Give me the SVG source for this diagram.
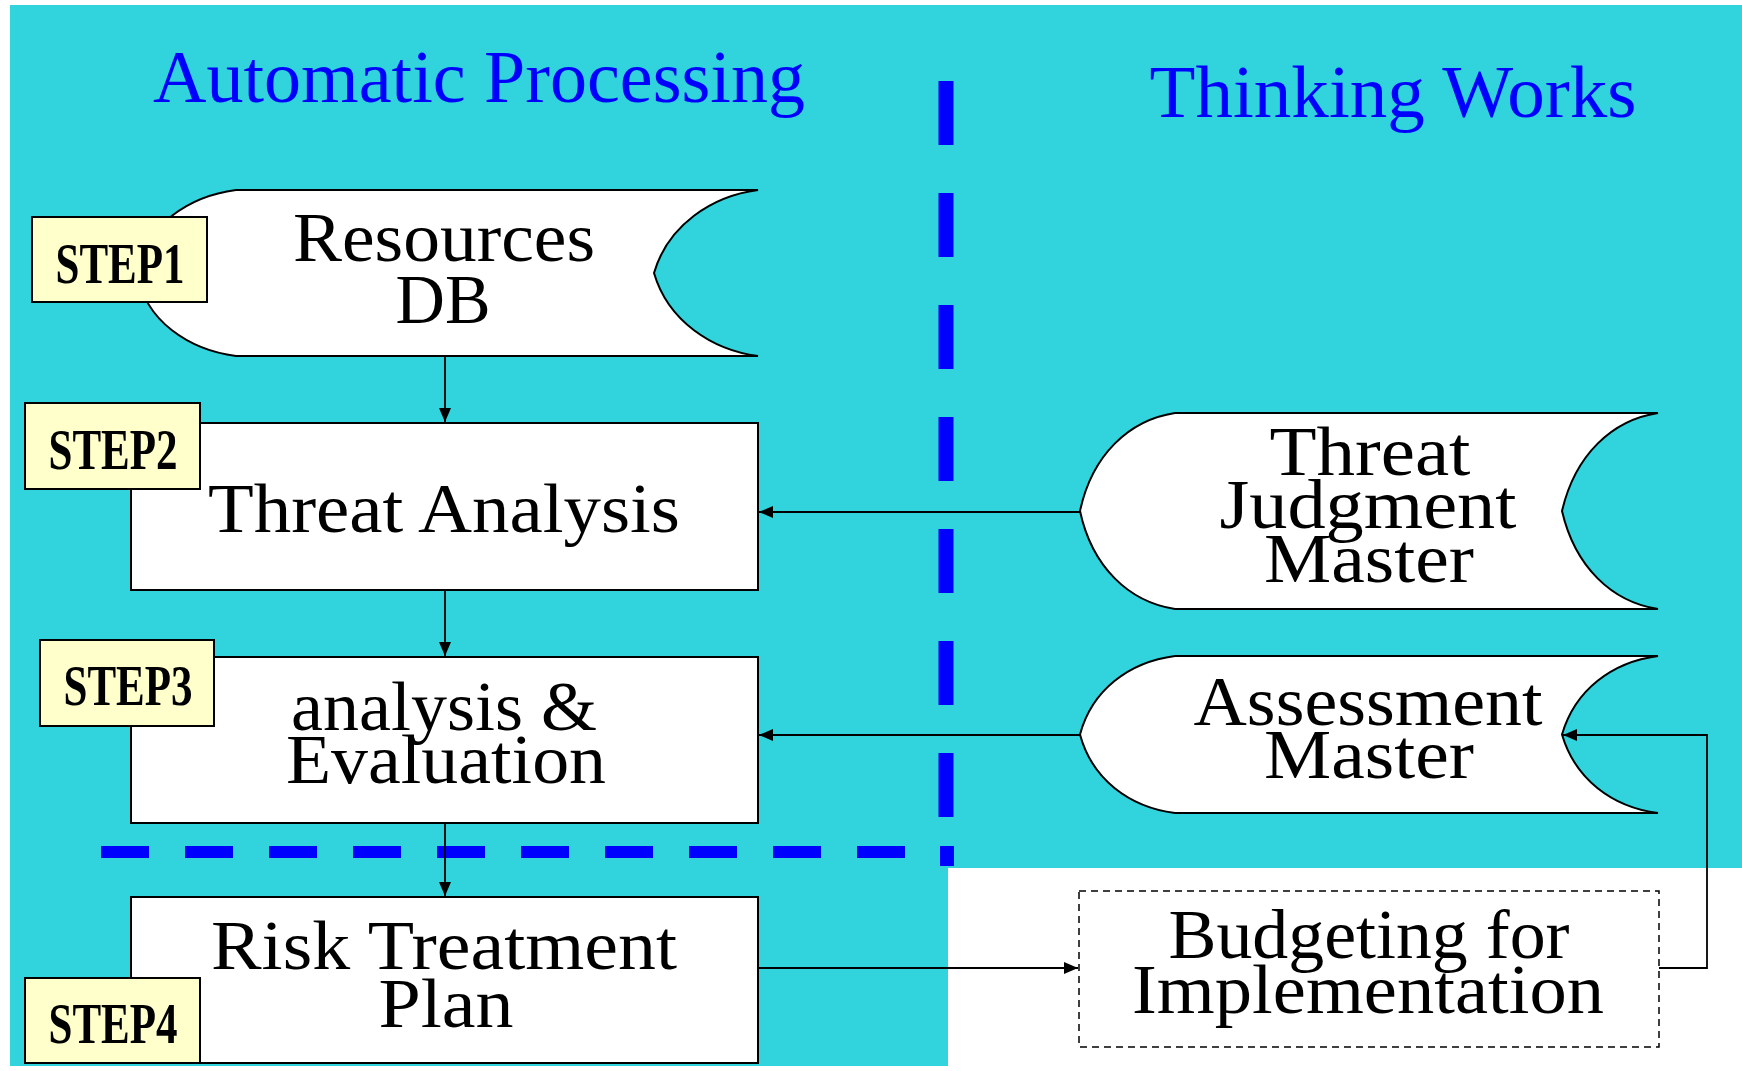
<svg xmlns="http://www.w3.org/2000/svg" width="1742" height="1071" viewBox="0 0 1742 1071">
<defs>
<style>
.bg{fill:#31D3DC}
.node{fill:#FFFFFF;stroke:#000;stroke-width:2}
.step{fill:#FFFFCC;stroke:#000;stroke-width:2}
.steptxt{font-family:"Liberation Serif",serif;font-weight:bold;font-size:58px;fill:#000;text-anchor:middle}
.txt{font-family:"Liberation Serif",serif;font-size:70px;fill:#000;text-anchor:middle}
.head{font-family:"Liberation Serif",serif;font-size:74px;fill:#0000FF;text-anchor:middle}
.conn{fill:none;stroke:#000;stroke-width:1.8}
.dash{fill:none;stroke:#0000FF}
</style>
<marker id="ah" markerUnits="userSpaceOnUse" markerWidth="14" markerHeight="12" refX="14" refY="6" orient="auto">
<path d="M0,0 L14,6 L0,12 Z" fill="#000"/>
</marker>
</defs>
<rect class="bg" x="10" y="5" width="1732" height="1061"/>
<rect x="948" y="868" width="794" height="203" fill="#FFFFFF"/>

<text class="head" x="479" y="102" textLength="652" lengthAdjust="spacingAndGlyphs">Automatic Processing</text>
<text class="head" x="1393" y="117" textLength="487" lengthAdjust="spacingAndGlyphs">Thinking Works</text>

<g id="separators">
<line class="dash" x1="946" y1="81" x2="946" y2="817" stroke-width="15" stroke-dasharray="64 48"/>
<rect x="940" y="846" width="14" height="20" fill="#0000FF"/>
<line class="dash" x1="101" y1="852" x2="905" y2="852" stroke-width="12" stroke-dasharray="48 36"/>
</g>

<g id="connectors">
<line class="conn" x1="445" y1="356" x2="445" y2="422" marker-end="url(#ah)"/>
<line class="conn" x1="445" y1="590" x2="445" y2="656" marker-end="url(#ah)"/>
<line class="conn" x1="445" y1="823" x2="445" y2="896" marker-end="url(#ah)"/>
<line class="conn" x1="1080" y1="512" x2="759" y2="512" marker-end="url(#ah)"/>
<line class="conn" x1="1080" y1="735" x2="759" y2="735" marker-end="url(#ah)"/>
<line class="conn" x1="758" y1="968" x2="1078" y2="968" marker-end="url(#ah)"/>
<polyline class="conn" points="1659,968 1707,968 1707,735 1563,735" marker-end="url(#ah)"/>
</g>

<g id="resources-db">
<path class="node" d="M236,190 H758 C712,196 668,225 654,273 C668,321 712,350 758,356 H236 C190,350 144,321 138,273 C144,225 190,196 236,190 Z"/>
<text class="txt" x="444" y="261" textLength="302" lengthAdjust="spacingAndGlyphs">Resources</text>
<text class="txt" x="443" y="323" textLength="95" lengthAdjust="spacingAndGlyphs">DB</text>
</g>
<g id="step1">
<rect class="step" x="32" y="217" width="175" height="85"/>
<text class="steptxt" x="120" y="283" textLength="129" lengthAdjust="spacingAndGlyphs">STEP1</text>
</g>

<g id="threat-analysis">
<rect class="node" x="131" y="423" width="627" height="167"/>
<text class="txt" x="444" y="532" textLength="472" lengthAdjust="spacingAndGlyphs">Threat Analysis</text>
</g>
<g id="step2">
<rect class="step" x="25" y="403" width="175" height="86"/>
<text class="steptxt" x="113" y="469" textLength="129" lengthAdjust="spacingAndGlyphs">STEP2</text>
</g>

<g id="analysis-evaluation">
<rect class="node" x="131" y="657" width="627" height="166"/>
<text class="txt" x="444" y="730" textLength="306" lengthAdjust="spacingAndGlyphs">analysis &amp;</text>
<text class="txt" x="446" y="783" textLength="320" lengthAdjust="spacingAndGlyphs">Evaluation</text>
</g>
<g id="step3">
<rect class="step" x="40" y="640" width="174" height="86"/>
<text class="steptxt" x="128" y="705" textLength="129" lengthAdjust="spacingAndGlyphs">STEP3</text>
</g>

<g id="risk-treatment-plan">
<rect class="node" x="131" y="897" width="627" height="166"/>
<text class="txt" x="444" y="969" textLength="466" lengthAdjust="spacingAndGlyphs">Risk Treatment</text>
<text class="txt" x="446" y="1027" textLength="135" lengthAdjust="spacingAndGlyphs">Plan</text>
</g>
<g id="step4">
<rect class="step" x="25" y="978" width="175" height="85"/>
<text class="steptxt" x="113" y="1043" textLength="129" lengthAdjust="spacingAndGlyphs">STEP4</text>
</g>

<g id="threat-judgment-master">
<path class="node" d="M1175,413 H1658 C1612,420 1575,455 1562,511 C1575,567 1612,602 1658,609 H1175 C1129,602 1092,567 1080,511 C1092,455 1129,420 1175,413 Z"/>
<text class="txt" x="1370" y="475" textLength="201" lengthAdjust="spacingAndGlyphs">Threat</text>
<text class="txt" x="1368" y="528" textLength="297" lengthAdjust="spacingAndGlyphs">Judgment</text>
<text class="txt" x="1369" y="582" textLength="210" lengthAdjust="spacingAndGlyphs">Master</text>
</g>

<g id="assessment-master">
<path class="node" d="M1175,656 H1658 C1612,662 1575,690 1562,734.5 C1575,779 1612,807 1658,813 H1175 C1129,807 1092,779 1080,734.5 C1092,690 1129,662 1175,656 Z"/>
<text class="txt" x="1368" y="725" textLength="349" lengthAdjust="spacingAndGlyphs">Assessment</text>
<text class="txt" x="1369" y="778" textLength="210" lengthAdjust="spacingAndGlyphs">Master</text>
</g>

<g id="budgeting">
<rect x="1079" y="891" width="580" height="156" fill="#FFFFFF" stroke="#000" stroke-width="1.5" stroke-dasharray="7 5"/>
<text class="txt" x="1369" y="958" textLength="401" lengthAdjust="spacingAndGlyphs">Budgeting for</text>
<text class="txt" x="1368" y="1013" textLength="472" lengthAdjust="spacingAndGlyphs">Implementation</text>
</g>
</svg>
